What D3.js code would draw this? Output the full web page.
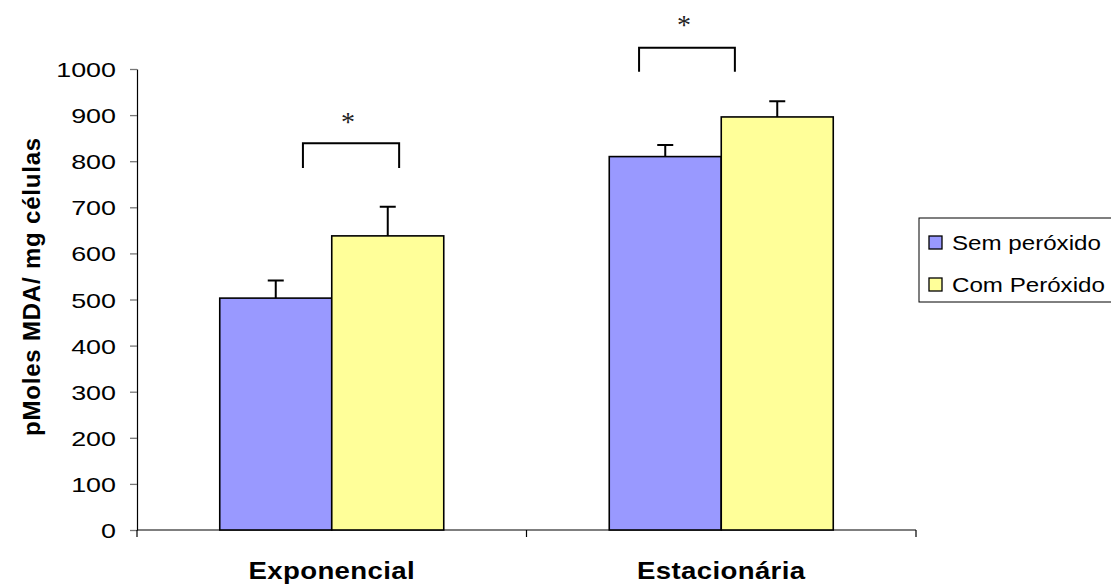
<!DOCTYPE html>
<html>
<head>
<meta charset="utf-8">
<script src="https://cdn.jsdelivr.net/npm/d3@7/dist/d3.min.js"></script>
<style>
  body { margin: 0; background: #fff; }
  svg text { font-family: "Liberation Sans", Arial, sans-serif; }
</style>
</head>
<body>
<div id="chart"></div>
<script>
// data
var categories = ["Exponencial", "Estacionária"];
var seriesNames = ["Sem peróxido", "Com Peróxido"];
var seriesColors = ["#9999FF", "#FFFF99"];
var semPeroxido = [503, 810];
var comPeroxido = [638, 896];
var semErro = [38, 25];
var comErro = [63, 34];
var yTicks = [0, 100, 200, 300, 400, 500, 600, 700, 800, 900, 1000];

// significance brackets (x as fraction of the category band, y in data units)
var bracketLeft = [0.426, 0.289];
var bracketRight = [0.673, 0.535];
var bracketTop = [839, 1046];
var bracketBottom = [785, 994];
var starValue = [896, 1106];

var W = 1111, H = 584;
var margin = {top: 69, left: 137, right: 195, bottom: 54};
var stretch = 1.28; // the text in the picture is wider than normal

var svg = d3.select("#chart").append("svg")
    .attr("width", W)
    .attr("height", H);

var x = d3.scaleBand()
    .domain(categories)
    .range([margin.left, W - margin.right]);

var y = d3.scaleLinear()
    .domain([0, 1000])
    .range([H - margin.bottom, margin.top]);

var groupW = 224;
var xs = d3.scaleBand()
    .domain(seriesNames)
    .range([0, groupW]);

var rows = categories.map(function(c, i) {
    return {cat: c, values: [
        {s: seriesNames[0], v: semPeroxido[i], e: semErro[i], color: seriesColors[0]},
        {s: seriesNames[1], v: comPeroxido[i], e: comErro[i], color: seriesColors[1]}
    ]};
});

// y axis
var yAxis = svg.append("g")
    .attr("transform", "translate(" + margin.left + ",0)")
    .call(d3.axisLeft(y).tickValues(yTicks).tickFormat(d3.format("d"))
        .tickSize(7).tickSizeOuter(0).tickPadding(0));
yAxis.select(".domain").attr("stroke", "#000").attr("stroke-width", 1.2);
yAxis.selectAll(".tick line").attr("stroke", "#777").attr("stroke-width", 1.3);
yAxis.selectAll(".tick text")
    .attr("x", -21 / stretch)
    .attr("dy", "0.36em")
    .attr("transform", "scale(" + stretch + ",1)")
    .attr("font-size", 21)
    .attr("fill", "#000")
    .attr("font-family", "Liberation Sans, Arial, sans-serif");

// x axis line + category separators
var x0 = margin.left, x1 = W - margin.right, yBase = y(0);
svg.append("line")
    .attr("x1", x0).attr("x2", x1)
    .attr("y1", yBase).attr("y2", yBase)
    .attr("stroke", "#000").attr("stroke-width", 1.2);
var sepX = [x0].concat(categories.map(function(c) { return x(c) + x.bandwidth(); }));
svg.selectAll(".sep").data(sepX).enter().append("line")
    .attr("x1", function(d) { return d; }).attr("x2", function(d) { return d; })
    .attr("y1", yBase).attr("y2", yBase + 7)
    .attr("stroke", "#000").attr("stroke-width", 1.2);

// category labels
svg.selectAll(".catlabel").data(categories).enter().append("text")
    .attr("transform", function(d) {
        return "translate(" + (x(d) + x.bandwidth() / 2) + ",579) scale(1.2,1)";
    })
    .attr("text-anchor", "middle")
    .attr("font-size", 23)
    .attr("font-weight", "bold")
    .attr("letter-spacing", 0.3)
    .text(function(d) { return d; });

// bars
var groups = svg.selectAll(".grp").data(rows).enter().append("g")
    .attr("transform", function(d) {
        return "translate(" + (x(d.cat) + (x.bandwidth() - groupW) / 2) + ",0)";
    });

groups.selectAll("rect").data(function(d) { return d.values; }).enter().append("rect")
    .attr("x", function(d) { return xs(d.s); })
    .attr("y", function(d) { return y(d.v); })
    .attr("width", xs.bandwidth())
    .attr("height", function(d) { return y(0) - y(d.v); })
    .attr("fill", function(d) { return d.color; })
    .attr("stroke", "#000")
    .attr("stroke-width", 1.6);

// error bars (upper only)
var capW = 16;
groups.selectAll(".err").data(function(d) { return d.values; }).enter().append("path")
    .attr("d", function(d) {
        var cx = xs(d.s) + xs.bandwidth() / 2;
        return "M" + cx + "," + y(d.v) + "V" + y(d.v + d.e) +
            "M" + (cx - capW / 2) + "," + y(d.v + d.e) + "H" + (cx + capW / 2);
    })
    .attr("fill", "none")
    .attr("stroke", "#000")
    .attr("stroke-width", 2);

// significance brackets
categories.forEach(function(c, i) {
    var bx0 = x(c) + bracketLeft[i] * x.bandwidth();
    var bx1 = x(c) + bracketRight[i] * x.bandwidth();
    svg.append("path")
        .attr("d", "M" + bx0 + "," + y(bracketBottom[i]) + "V" + y(bracketTop[i]) +
            "H" + bx1 + "V" + y(bracketBottom[i]))
        .attr("fill", "none")
        .attr("stroke", "#000")
        .attr("stroke-width", 2);
    svg.append("text")
        .attr("x", (bx0 + bx1) / 2 - 3)
        .attr("y", y(starValue[i]) + 14)
        .attr("text-anchor", "middle")
        .attr("font-size", 28)
        .attr("fill", "#222")
        .style("font-family", "'Liberation Serif', 'Times New Roman', serif")
        .text("*");
});

// y axis title
svg.append("text")
    .attr("transform", "translate(40," + (margin.top + (yBase - margin.top) / 2 - 13) + ") rotate(-90)")
    .attr("text-anchor", "middle")
    .attr("font-size", 24)
    .attr("font-weight", "bold")
    .attr("letter-spacing", 0.8)
    .text("pMoles MDA/ mg células");

// legend (box runs off the right edge like the original)
var legend = svg.append("g").attr("transform", "translate(919,218)");
legend.append("rect")
    .attr("x", 0).attr("y", 0)
    .attr("width", 240).attr("height", 84)
    .attr("fill", "#fff")
    .attr("stroke", "#000")
    .attr("stroke-width", 1);
var li = legend.selectAll(".li").data(seriesNames).enter().append("g")
    .attr("transform", function(d, i) { return "translate(10," + (18 + i * 42) + ")"; });
li.append("rect")
    .attr("width", 13).attr("height", 13)
    .attr("fill", function(d, i) { return seriesColors[i]; })
    .attr("stroke", "#000")
    .attr("stroke-width", 1.3);
li.append("text")
    .attr("transform", "translate(23,14) scale(1.15,1)")
    .attr("font-size", 21)
    .text(function(d) { return d; });
</script>
</body>
</html>
